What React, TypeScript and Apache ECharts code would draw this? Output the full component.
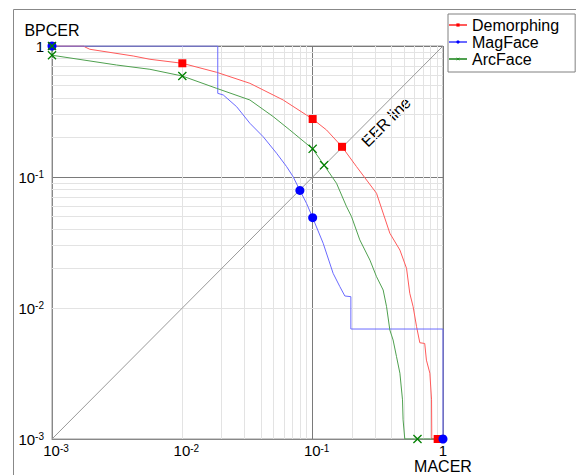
import React, { useEffect, useRef } from "react";
import * as echarts from "echarts";

const seriesNames = ["Demorphing", "MagFace", "ArcFace"];
const seriesColors = ["#ff0000", "#0000ff", "#008000"];
const lineColors = ["#ff5a5a", "#6a6aff", "#4fa04f"];

const demorphingCurve: [number, number][] = [
  [0.001, 1], [0.00175, 1], [0.00179, 0.983], [0.00195, 0.944], [0.0042, 0.839],
  [0.00564, 0.792], [0.01, 0.738], [0.01833, 0.63], [0.033, 0.519], [0.0594, 0.387],
  [0.0897, 0.297], [0.1, 0.277], [0.1278, 0.2285], [0.168, 0.17], [0.217, 0.12],
  [0.309, 0.0751], [0.391, 0.0372], [0.467, 0.0277], [0.525, 0.0201], [0.556, 0.01295],
  [0.59, 0.01023], [0.627, 0.0072], [0.664, 0.00543], [0.724, 0.00536], [0.746, 0.004],
  [0.793, 0.00318], [0.817, 0.00199], [0.82, 0.00105], [0.82, 0.001], [1, 0.001],
];
const magfaceCurve: [number, number][] = [
  [0.001, 1], [0.0187, 1], [0.0187, 0.435], [0.0206, 0.423], [0.0261, 0.344],
  [0.033, 0.257], [0.0417, 0.203], [0.0528, 0.152], [0.0631, 0.12], [0.0708, 0.1005],
  [0.0798, 0.079], [0.0897, 0.063], [0.1, 0.0489], [0.1204, 0.0312], [0.1435, 0.0184],
  [0.1617, 0.01455], [0.1766, 0.01235], [0.1964, 0.0122], [0.1964, 0.00691],
  [1, 0.00691], [1, 0.001],
];
const arcfaceCurve: [number, number][] = [
  [0.001, 1], [0.001, 0.85], [0.00313, 0.716], [0.00564, 0.664], [0.01, 0.59],
  [0.01833, 0.475], [0.033, 0.387], [0.0498, 0.289], [0.0668, 0.2285], [0.1, 0.164],
  [0.1224, 0.123], [0.1524, 0.0895], [0.182, 0.0593], [0.1987, 0.0498], [0.23, 0.0331],
  [0.275, 0.0232], [0.309, 0.01734], [0.3475, 0.01372], [0.369, 0.01023], [0.391, 0.00679],
  [0.414, 0.0057], [0.44, 0.00425], [0.467, 0.00318], [0.489, 0.00199], [0.494, 0.0014],
  [0.509, 0.001], [1, 0.001],
];

const demorphingMarkers: [number, number][] = [
  [0.001, 1], [0.01, 0.738], [0.1, 0.277], [0.168, 0.17], [0.91, 0.001],
];
const magfaceMarkers: [number, number][] = [
  [0.001, 1], [0.0798, 0.079], [0.1, 0.0489], [1, 0.001],
];
const arcfaceMarkers: [number, number][] = [
  [0.001, 1], [0.001, 0.85], [0.01, 0.59], [0.1, 0.164], [0.1224, 0.123], [0.637, 0.001],
];

const eerLine: [number, number][] = [[0.001, 0.001], [1, 1]];
const decades = [0.001, 0.01, 0.1];
const minorFactors = [2, 3, 4, 5, 6, 7, 8, 9];

const FONT = "'Liberation Sans', Arial, sans-serif";
const crossPath =
  "path://M0,1L1,0L5,4L9,0L10,1L6,5L10,9L9,10L5,6L1,10L0,9L4,5Z";

export default function App() {
  const ref = useRef<HTMLDivElement>(null);
  useEffect(() => {
    if (!ref.current) return;
    const chart = echarts.init(ref.current, undefined, { renderer: "svg" });

    const minorVals: number[] = [];
    decades.forEach((d) => minorFactors.forEach((f) => minorVals.push(d * f)));

    const labelRich = {
      b: { fontSize: 15, fontFamily: FONT, color: "#000", verticalAlign: "middle" },
      s: { fontSize: 10, fontFamily: FONT, color: "#000", verticalAlign: "top" },
      sp: { width: 8, fontSize: 10 },
    };
    const expOf = (v: number) => Math.round(Math.log10(v));

    const symbols = ["rect", "circle", crossPath];
    const sizes = [8, 9, 9];
    const curves = [demorphingCurve, magfaceCurve, arcfaceCurve];
    const markers = [demorphingMarkers, magfaceMarkers, arcfaceMarkers];

    const lineSeries = seriesNames.map((name, i) => ({
      name,
      type: "line",
      data: curves[i],
      symbol: symbols[i],
      symbolSize: sizes[i],
      showSymbol: false,
      lineStyle: { color: lineColors[i], width: 1 },
      itemStyle: { color: seriesColors[i] },
      z: 3 + i,
      silent: true,
    }));
    const markerSeries = seriesNames.map((name, i) => ({
      name,
      type: "scatter",
      data: markers[i],
      symbol: symbols[i],
      symbolSize: sizes[i],
      itemStyle: { color: seriesColors[i], opacity: 1 },
      clip: false,
      z: 10 + i,
      silent: true,
    }));

    const option: any = {
      animation: false,
      backgroundColor: "#fff",
      grid: {
        left: 52, top: 46, right: 133, bottom: 36,
        show: true, borderColor: "#999", borderWidth: 1, backgroundColor: "transparent",
      },
      xAxis: {
        type: "log", logBase: 10, min: 0.001, max: 1,
        axisLine: { onZero: false, lineStyle: { color: "#888", width: 1 } },
        axisTick: { show: false },
        splitLine: { show: true, lineStyle: { color: "#7a7a7a", width: 1 } },
        axisLabel: {
          margin: 4,
          formatter: (v: number) => {
            const e = expOf(v);
            return e === 0 ? "{b|1}" : "{sp| }{b|10}{s|" + e + "}";
          },
          rich: labelRich,
        },
      },
      yAxis: {
        type: "log", logBase: 10, min: 0.001, max: 1,
        axisLine: { onZero: false, lineStyle: { color: "#888", width: 1 } },
        axisTick: { show: false },
        splitLine: { show: true, lineStyle: { color: "#7a7a7a", width: 1 } },
        axisLabel: {
          margin: 8,
          formatter: (v: number) => {
            const e = expOf(v);
            return e === 0 ? "{b|1}" : "{b|10}{s|" + e + "}";
          },
          rich: labelRich,
        },
      },
      legend: {
        data: seriesNames,
        orient: "vertical",
        left: 448, top: 14,
        itemWidth: 18, itemHeight: 4, itemGap: 1,
        padding: [3, 16, 5, 0],
        borderColor: "#808080", borderWidth: 1, backgroundColor: "#fff",
        textStyle: { fontSize: 16, fontFamily: FONT, color: "#000", lineHeight: 15.5 },
      },
      series: [
        {
          name: "EER",
          type: "line",
          data: eerLine,
          showSymbol: false,
          symbol: "none",
          lineStyle: { color: "#999", width: 1 },
          silent: true,
          z: 2,
          markLine: {
            silent: true,
            symbol: ["none", "none"],
            label: { show: false },
            lineStyle: { color: "#e3e3e3", type: "solid", width: 1 },
            data: [
              ...minorVals.map((v) => ({ xAxis: v })),
              ...minorVals.map((v) => ({ yAxis: v })),
            ],
            z: 1,
          },
        },
        ...lineSeries,
        ...markerSeries,
      ],
      graphic: [
        { type: "line", shape: { x1: 13.5, y1: 9.5, x2: 576, y2: 9.5 }, style: { stroke: "#888", lineWidth: 1 } },
        { type: "line", shape: { x1: 13.5, y1: 9.5, x2: 13.5, y2: 475 }, style: { stroke: "#888", lineWidth: 1 } },
        {
          type: "text", x: 52, y: 30,
          style: { text: "BPCER", fontSize: 16, fontFamily: FONT, fill: "#000", align: "center", verticalAlign: "middle", textAlign: "center", textVerticalAlign: "middle" },
        },
        {
          type: "text", x: 443, y: 466,
          style: { text: "MACER", fontSize: 16, fontFamily: FONT, fill: "#000", align: "center", verticalAlign: "middle", textAlign: "center", textVerticalAlign: "middle" },
        },
        {
          type: "text", x: 386, y: 122, rotation: Math.PI / 4,
          style: { text: "EER line", fontSize: 16, fontFamily: FONT, fill: "#000", align: "center", verticalAlign: "middle", textAlign: "center", textVerticalAlign: "middle" },
        },
      ],
    };
    chart.setOption(option);
    return () => chart.dispose();
  }, []);
  return (
    <div
      ref={ref}
      style={{ position: "absolute", left: 0, top: 0, width: 576, height: 475 }}
    />
  );
}
